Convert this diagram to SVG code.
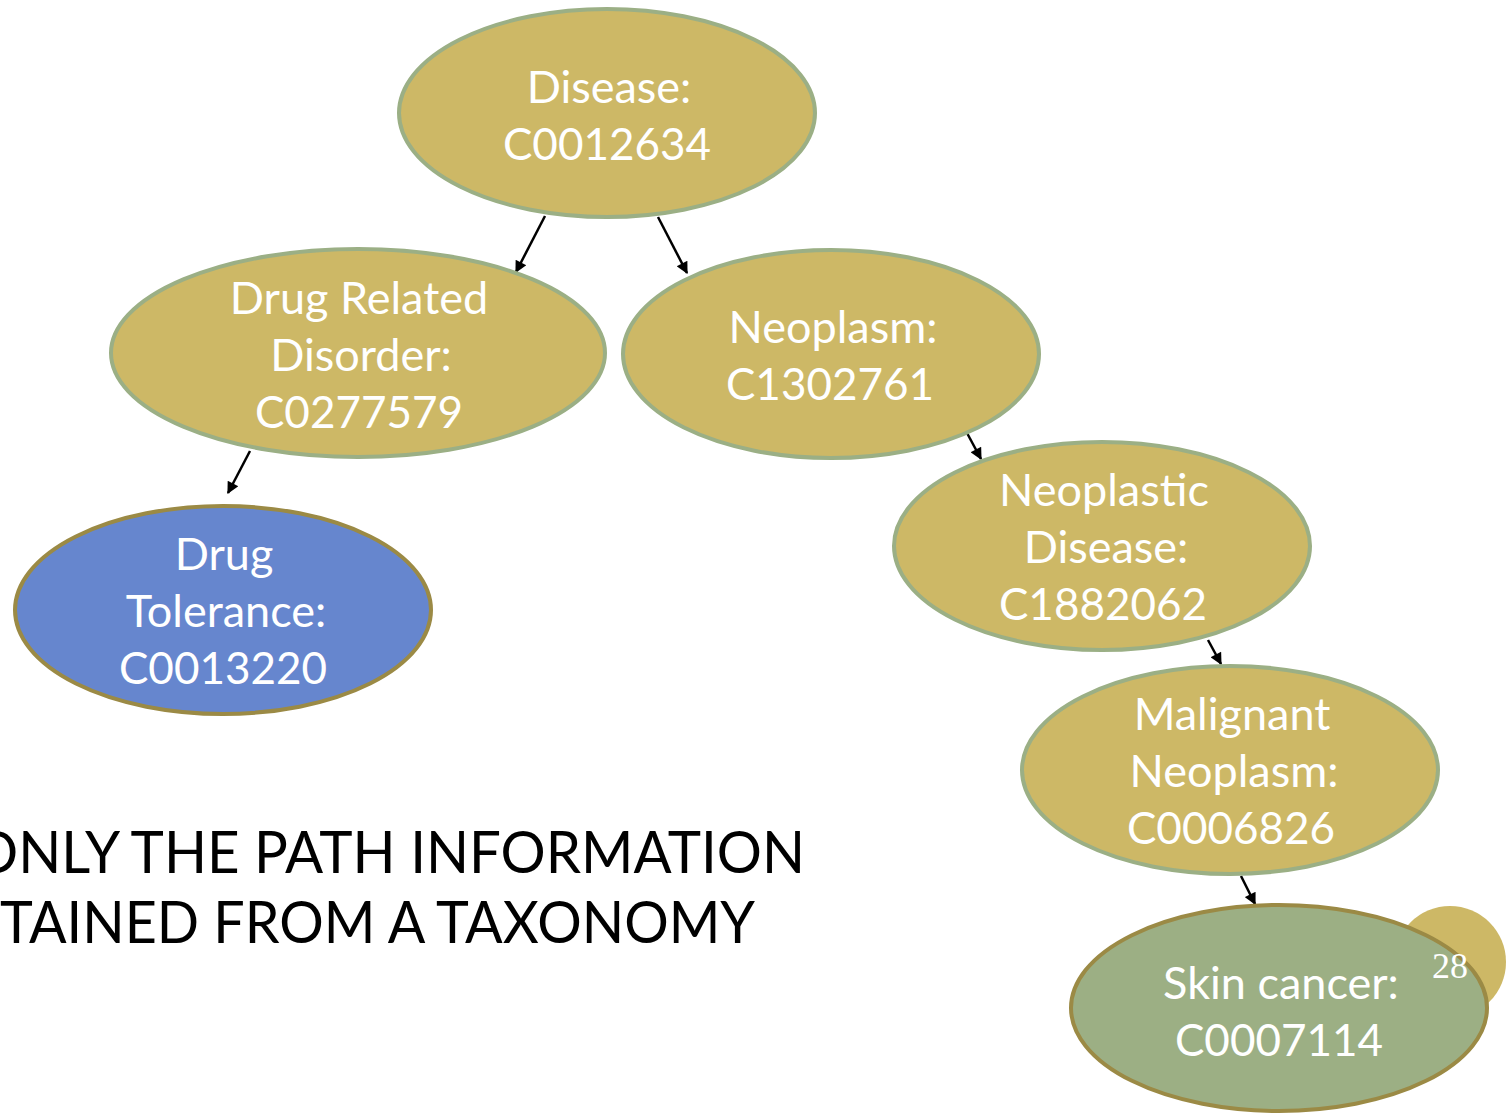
<svg xmlns="http://www.w3.org/2000/svg" width="1511" height="1113" viewBox="0 0 1511 1113">
<style>
.g{fill:#CDB866;stroke:#9BAF85;stroke-width:4}
.b{fill:#6686CE;stroke:#9B8A45;stroke-width:4}
.s{fill:#9CAF84;stroke:#9B8A45;stroke-width:4}
.t{fill:#fff;font-family:Lato,"Open Sans","Liberation Sans",sans-serif;font-size:45px;text-anchor:middle}
.k{font-size:44px}
.c{stroke:#000;stroke-width:2.5;fill:none;marker-end:url(#ah)}
.big{fill:#000;font-family:Lato,"Liberation Sans",sans-serif;font-size:58px}
</style>
<defs>
<marker id="ah" viewBox="0 0 10 10" refX="9" refY="5" markerWidth="14" markerHeight="12" orient="auto" markerUnits="userSpaceOnUse">
<path d="M0,0 L10,5 L0,10 z" fill="#000"/>
</marker>
</defs>
<g id="page-badge">
<circle cx="1450" cy="962" r="56" fill="#CDB866"/>
</g>
<g id="connectors">
<line class="c" x1="545" y1="216" x2="516" y2="272"/>
<line class="c" x1="658" y1="217" x2="687" y2="273"/>
<line class="c" x1="250" y1="451" x2="228" y2="493"/>
<line class="c" x1="967" y1="433" x2="981" y2="459"/>
<line class="c" x1="1208" y1="640" x2="1221" y2="664"/>
<line class="c" x1="1241" y1="876" x2="1255" y2="904"/>
</g>
<g id="n-disease">
<ellipse class="g" cx="607" cy="113" rx="208" ry="104"/>
<text class="t" x="609" y="103">Disease:</text>
<text class="t k" x="607" y="160">C0012634</text>
</g>
<g id="n-drug-related">
<ellipse class="g" cx="358" cy="353" rx="247" ry="104"/>
<text class="t" x="359" y="314">Drug Related</text>
<text class="t" x="361" y="371">Disorder:</text>
<text class="t k" x="359" y="428">C0277579</text>
</g>
<g id="n-neoplasm">
<ellipse class="g" cx="831" cy="354" rx="208" ry="104"/>
<text class="t" x="833" y="343">Neoplasm:</text>
<text class="t k" x="830" y="400">C1302761</text>
</g>
<g id="n-drug-tolerance">
<ellipse class="b" cx="223" cy="610" rx="208" ry="104"/>
<text class="t" x="224" y="570">Drug</text>
<text class="t" x="226" y="627">Tolerance:</text>
<text class="t k" x="223" y="684">C0013220</text>
</g>
<g id="n-neoplastic-disease">
<ellipse class="g" cx="1102" cy="546" rx="208" ry="104"/>
<text class="t" x="1104" y="506">Neoplastic</text>
<text class="t" x="1106" y="563">Disease:</text>
<text class="t k" x="1103" y="620">C1882062</text>
</g>
<g id="n-malignant">
<ellipse class="g" cx="1230" cy="770" rx="208" ry="104"/>
<text class="t" x="1232" y="730">Malignant</text>
<text class="t" x="1234" y="787">Neoplasm:</text>
<text class="t k" x="1231" y="844">C0006826</text>
</g>
<g id="n-skin-cancer">
<ellipse class="s" cx="1279" cy="1008" rx="208" ry="103"/>
<text class="t" x="1281" y="999">Skin cancer:</text>
<text class="t k" x="1279" y="1056">C0007114</text>
</g>
<text x="1450" y="978" fill="#fff" font-family="'Liberation Serif',serif" font-size="36" text-anchor="middle">28</text>
<text class="big" x="-27" y="873" textLength="832" lengthAdjust="spacingAndGlyphs">ONLY THE PATH INFORMATION</text>
<text class="big" x="0" y="943" textLength="755" lengthAdjust="spacingAndGlyphs">TAINED FROM A TAXONOMY</text>
</svg>
